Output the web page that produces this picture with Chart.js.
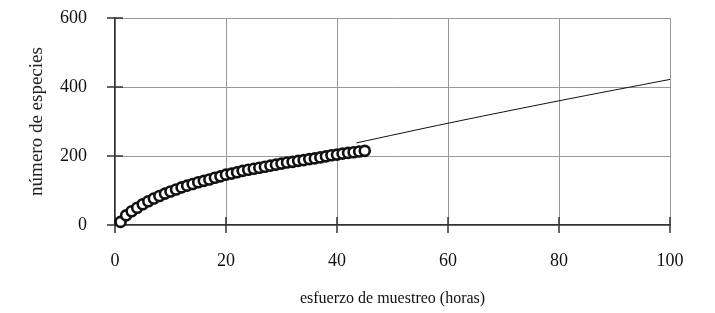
<!DOCTYPE html>
<html>
<head>
<meta charset="utf-8">
<script src="https://cdn.jsdelivr.net/npm/chart.js@4"></script>
<style>
  html, body { margin: 0; padding: 0; background: #fff; }
  #wrap { width: 715px; height: 313px; }
</style>
</head>
<body>
<div id="wrap"><canvas id="especiesChart" width="715" height="313"></canvas></div>
<script>
// esfuerzo (horas) y especies acumuladas
const horas = [1,2,3,4,5,6,7,8,9,10,11,12,13,14,15,16,17,18,19,20,21,22,23,24,25,26,27,28,29,30,31,32,33,34,35,36,37,38,39,40,41,42,43,44,45];
const especies = [9,28,40,50,60,69,77,84,91,97,103,109,114,119,124,128,132,137,141,146,149,153,157,160,163,166,169,172,175,178,181,183,186,188,191,193,196,199,202,204,207,209,211,213,215];
// curva ajustada (extrapolacion)
const ajusteX = [43.5, 60, 80, 100];
const ajusteY = [238, 295, 360, 422];

const xTicks = [0, 20, 40, 60, 80, 100];
const yTicks = [0, 200, 400, 600];

const serif = 'Liberation Serif, Times New Roman, serif';

// ticks que cruzan el eje, como en el original
const crossTicks = {
    id: 'crossTicks',
    beforeDatasetsDraw(chart) {
        const ctx = chart.ctx;
        const xs = chart.scales.x, ys = chart.scales.y;
        const x0 = xs.getPixelForValue(0), y0 = ys.getPixelForValue(0);
        ctx.save();
        ctx.strokeStyle = '#333';
        ctx.lineWidth = 1.5;
        ctx.beginPath();
        yTicks.forEach(v => {
            const p = ys.getPixelForValue(v);
            ctx.moveTo(x0 - 8, p); ctx.lineTo(x0 + 8, p);
        });
        xTicks.forEach(v => {
            const p = xs.getPixelForValue(v);
            ctx.moveTo(p, y0 - 8); ctx.lineTo(p, y0 + 8);
        });
        ctx.stroke();
        ctx.restore();
    }
};

new Chart(document.getElementById('especiesChart'), {
    type: 'scatter',
    data: {
        datasets: [{
            label: 'observado',
            data: horas.map((h, i) => ({x: h, y: especies[i]})),
            pointRadius: 5,
            pointBorderWidth: 2.6,
            pointBorderColor: '#111',
            pointBackgroundColor: '#fff',
            showLine: false,
            clip: false,
            order: 1
        }, {
            label: 'ajuste',
            data: ajusteX.map((h, i) => ({x: h, y: ajusteY[i]})),
            showLine: true,
            borderColor: '#111',
            borderWidth: 1,
            pointRadius: 0,
            tension: 0.3,
            order: 2
        }]
    },
    options: {
        responsive: false,
        animation: false,
        events: [],
        layout: { padding: { top: 18, right: 45, left: 0, bottom: 0 } },
        plugins: { legend: { display: false }, tooltip: { enabled: false } },
        scales: {
            x: {
                type: 'linear',
                min: 0, max: 100,
                afterFit(scale) { scale.height = 88; scale.paddingLeft = 0; scale.paddingRight = 0; },
                afterBuildTicks(scale) { scale.ticks = xTicks.map(v => ({value: v})); },
                grid: { color: '#999', lineWidth: 1, drawTicks: false },
                border: { color: '#333', width: 1.5 },
                ticks: { color: '#111', padding: 25, font: { family: serif, size: 18 } },
                title: {
                    display: true,
                    text: 'esfuerzo de muestreo (horas)',
                    color: '#111',
                    font: { family: serif, size: 16 },
                    padding: { top: 0, bottom: 5 }
                }
            },
            y: {
                type: 'linear',
                min: 0, max: 600,
                afterFit(scale) { scale.width = 115; scale.paddingTop = 0; scale.paddingBottom = 0; },
                afterBuildTicks(scale) { scale.ticks = yTicks.map(v => ({value: v})); },
                grid: { color: '#999', lineWidth: 1, drawTicks: false },
                border: { color: '#333', width: 1.5 },
                ticks: { color: '#111', padding: 28, font: { family: serif, size: 18 } },
                title: {
                    display: true,
                    text: 'número de especies',
                    color: '#222',
                    font: { family: serif, size: 19 },
                    padding: { top: 26, bottom: 26 }
                }
            }
        }
    },
    plugins: [crossTicks]
});
</script>
</body>
</html>
